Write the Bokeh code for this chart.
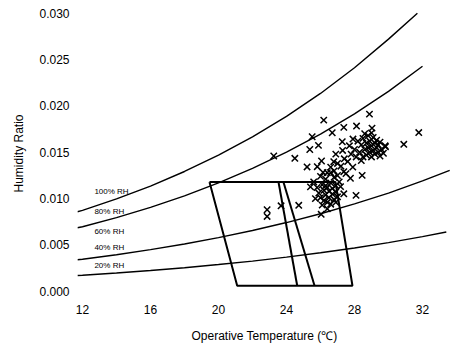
from bokeh.plotting import figure
from bokeh.models import FixedTicker, NumeralTickFormatter, Range1d
from bokeh.core.properties import value
from bokeh.embed import file_html
from bokeh.resources import INLINE

# RH curves (operative temperature in C, humidity ratio kg/kg)
t_100 = [11.7, 12, 14, 16, 18, 20, 22, 24, 26, 28, 30, 31.7]
w_100 = [0.00859, 0.00873, 0.00997, 0.01136, 0.01293, 0.01470, 0.01667, 0.01888, 0.02135, 0.02412, 0.02721, 0.03000]
t_80 = [11.7, 12, 14, 16, 18, 20, 22, 24, 26, 28, 30, 32]
w_80 = [0.00686, 0.00697, 0.00795, 0.00906, 0.01030, 0.01170, 0.01327, 0.01501, 0.01697, 0.01915, 0.02158, 0.02428]
t_40 = [11.7, 12, 14, 16, 18, 20, 22, 24, 26, 28, 30, 32, 33.6]
w_40 = [0.00340, 0.00346, 0.00395, 0.00450, 0.00511, 0.00580, 0.00656, 0.00742, 0.00837, 0.00943, 0.01060, 0.01191, 0.01306]
t_20 = [11.7, 12, 14, 16, 18, 20, 22, 24, 26, 28, 30, 32, 33.4]
w_20 = [0.00170, 0.00173, 0.00197, 0.00224, 0.00254, 0.00289, 0.00326, 0.00369, 0.00416, 0.00468, 0.00526, 0.00590, 0.00640]

rh_labels = ["100% RH", "80% RH", "60% RH", "40% RH", "20% RH"]
rh_label_t = [12.7, 12.7, 12.7, 12.7, 12.7]
rh_label_w = [0.01073, 0.00858, 0.00643, 0.00471, 0.00277]

# comfort zone
zone_t = [19.47, 26.88, 27.88, 21.1, 19.47]
zone_w = [0.0118, 0.0118, 0.0006, 0.0006, 0.0118]
line_a_t = [23.53, 24.63]
line_b_t = [23.82, 25.65]
line_w = [0.0118, 0.0006]

# observations
obs_t = [
    26.19, 28.88, 31.78, 30.90, 23.25, 24.49, 25.37, 25.88, 25.51, 26.69,
    27.37, 28.12, 29.03, 27.28, 27.91, 25.21, 26.06, 25.81, 26.15, 26.78,
    27.37, 27.76, 28.45, 25.41, 27.37, 28.09, 27.18, 24.72, 23.68, 22.86,
    22.86, 26.04, 29.82,
    25.6, 25.8, 25.9, 26.0, 26.1, 26.2, 26.2, 26.3, 26.3, 26.4,
    26.4, 26.5, 26.5, 26.6, 26.6, 26.7, 26.7, 26.8, 26.8, 26.9,
    26.9, 27.0, 26.1, 26.4, 25.7, 26.0, 26.6, 26.9, 27.1, 26.3,
    26.4, 26.6, 26.8, 27.0, 27.2, 27.4, 27.6, 27.8, 27.9, 28.1,
    27.5, 27.0, 28.0, 27.7, 26.9, 27.3,
    28.3, 28.4, 28.5, 28.5, 28.6, 28.7, 28.7, 28.8, 28.8, 28.9,
    28.9, 29.0, 29.0, 29.1, 29.1, 29.2, 29.2, 29.3, 29.3, 29.4,
    29.4, 29.5, 29.5, 29.6, 29.7, 28.6, 29.0, 28.2, 29.8, 28.4,
]
obs_w = [
    0.01847, 0.01912, 0.01713, 0.01586, 0.01460, 0.01435, 0.01530, 0.01575, 0.01668, 0.01711,
    0.01769, 0.01783, 0.01761, 0.01614, 0.01643, 0.01342, 0.01406, 0.01345, 0.01283, 0.01399,
    0.01291, 0.01220, 0.01251, 0.01127, 0.01052, 0.01035, 0.01130, 0.00928, 0.00923, 0.00880,
    0.00808, 0.00831, 0.01560,
    0.0118, 0.0112, 0.0106, 0.0101, 0.0115, 0.0109, 0.0098, 0.0121, 0.0104, 0.0112,
    0.0096, 0.0108, 0.0101, 0.0117, 0.0094, 0.0105, 0.0111, 0.0099, 0.0123, 0.0107,
    0.0114, 0.0102, 0.0093, 0.0089, 0.0100, 0.0124, 0.0128, 0.0096, 0.0118, 0.0114,
    0.0128, 0.0134, 0.0130, 0.0138, 0.0135, 0.0143, 0.0140, 0.0148, 0.0134, 0.0145,
    0.0127, 0.0125, 0.0153, 0.0157, 0.0148, 0.0152,
    0.0150, 0.0158, 0.0145, 0.0165, 0.0153, 0.0160, 0.0147, 0.0168, 0.0155, 0.0150,
    0.0162, 0.0145, 0.0157, 0.0166, 0.0152, 0.0160, 0.0148, 0.0155, 0.0163, 0.0150,
    0.0158, 0.0146, 0.0161, 0.0153, 0.0149, 0.0170, 0.0171, 0.0162, 0.0157, 0.0141,
]

x_ticks = [12, 16, 20, 24, 28, 32]
y_ticks = [0.0, 0.005, 0.010, 0.015, 0.020, 0.025, 0.030]

FONT = "Liberation Sans"

p = figure(width=451, height=345, output_backend="svg", toolbar_location=None,
           x_range=Range1d(11.706, 33.706), y_range=Range1d(-0.000559, 0.030301),
           min_border_left=77, min_border_right=0, min_border_top=10, min_border_bottom=48)
p.outline_line_color = None
p.grid.visible = False
p.background_fill_color = "white"
p.border_fill_color = "white"

for t, w in [(t_100, w_100), (t_80, w_80), (t_40, w_40), (t_20, w_20)]:
    p.line(t, w, line_color="black", line_width=1.4)

p.line(zone_t, zone_w, line_color="black", line_width=2)
p.line(line_a_t, line_w, line_color="black", line_width=2)
p.line(line_b_t, line_w, line_color="black", line_width=2)

p.scatter(obs_t, obs_w, marker="x", size=9, line_color="black", line_width=1.5)

p.text(rh_label_t, rh_label_w, text=rh_labels, text_font=value(FONT), text_font_size="8px",
       text_baseline="middle", text_align="left", text_color="black")

for ax in (p.xaxis[0], p.yaxis[0]):
    ax.axis_line_color = None
    ax.major_tick_line_color = None
    ax.minor_tick_line_color = None
    ax.major_tick_out = 0
    ax.major_tick_in = 0
    ax.major_label_text_font = FONT
    ax.major_label_text_font_size = "12px"
    ax.major_label_text_color = "black"
    ax.axis_label_text_font = FONT
    ax.axis_label_text_font_size = "12px"
    ax.axis_label_text_font_style = "normal"
    ax.axis_label_text_color = "black"

p.xaxis.ticker = FixedTicker(ticks=x_ticks)
p.yaxis.ticker = FixedTicker(ticks=y_ticks)
p.yaxis.formatter = NumeralTickFormatter(format="0.000")
p.xaxis.axis_label = "Operative Temperature (\u2103)"
p.yaxis.axis_label = "Humidity Ratio"
p.xaxis.major_label_standoff = 8
p.xaxis.axis_label_standoff = 12
p.yaxis.major_label_standoff = 8
p.yaxis.axis_label_standoff = 10

open("out.html", "w").write(file_html(p, INLINE))
